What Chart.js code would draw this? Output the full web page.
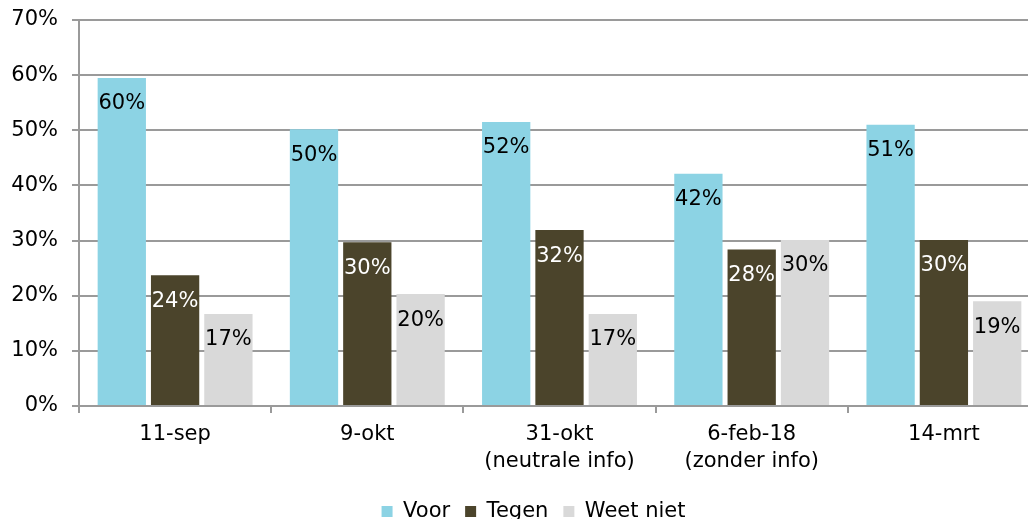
<!DOCTYPE html>
<html>
<head>
<meta charset="utf-8">
<script src="https://cdn.jsdelivr.net/npm/chart.js@4/dist/chart.umd.min.js"></script>
<style>
  html, body { margin: 0; padding: 0; overflow: hidden; background: #fff; }
  #wrap { position: absolute; left: 0; top: 0; width: 1040px; height: 532px; }
</style>
</head>
<body>
<div id="wrap"><canvas id="c"></canvas></div>
<script>
const categories = [['11-sep'], ['9-okt'], ['31-okt', '(neutrale info)'], ['6-feb-18', '(zonder info)'], ['14-mrt']];
const voor = [59.5, 50.2, 51.5, 42.1, 51.0];
const tegen = [23.7, 29.7, 31.9, 28.4, 30.1];
const weetNiet = [16.7, 20.3, 16.7, 30.1, 19.0];
const yTicks = [0, 10, 20, 30, 40, 50, 60, 70];

const FONT = 'DejaVu Sans';
const GRID = '#9a9a9a';

const labelPlugin = {
  id: 'barLabels',
  afterDatasetsDraw(chart) {
    const ctx = chart.ctx;
    ctx.save();
    ctx.font = '21px "' + FONT + '"';
    ctx.textAlign = 'center';
    ctx.textBaseline = 'middle';
    chart.data.datasets.forEach((ds, di) => {
      const meta = chart.getDatasetMeta(di);
      meta.data.forEach((bar, i) => {
        ctx.fillStyle = ds.labelColor;
        ctx.fillText(Math.round(ds.data[i]) + '%', bar.x, bar.y + 26);
      });
    });
    ctx.restore();
  }
};

const legendShift = {
  id: 'legendShift',
  afterLayout(chart) {
    if (chart.legend) { chart.legend.left = 27; }
  }
};

new Chart(document.getElementById('c'), {
  type: 'bar',
  data: {
    labels: categories,
    datasets: [
      { label: 'Voor', data: voor, backgroundColor: '#8cd3e4', labelColor: '#000000' },
      { label: 'Tegen', data: tegen, backgroundColor: '#4b442b', labelColor: '#ffffff' },
      { label: 'Weet niet', data: weetNiet, backgroundColor: '#d9d9d9', labelColor: '#000000' }
    ]
  },
  options: {
    responsive: true,
    maintainAspectRatio: false,
    animation: false,
    devicePixelRatio: 1,
    layout: { padding: { left: 0, right: 0, top: 20, bottom: 0 } },
    datasets: { bar: { categoryPercentage: 0.832, barPercentage: 0.906 } },
    plugins: {
      tooltip: { enabled: false },
      legend: {
        position: 'bottom',
        labels: {
          boxWidth: 11, boxHeight: 11, padding: 15,
          color: '#000', font: { family: FONT, size: 21 }
        }
      }
    },
    scales: {
      x: {
        afterFit(s) { s.height = 80; s.paddingLeft = 0; s.paddingRight = 0; },
        grid: { offset: true, drawOnChartArea: false, drawTicks: true, tickLength: 7, color: GRID, lineWidth: 2 },
        border: { display: true, color: GRID, width: 2 },
        ticks: { color: '#000', padding: 9, font: { family: FONT, size: 21, lineHeight: 1.24 }, maxRotation: 0, autoSkip: false }
      },
      y: {
        min: 0, max: 70,
        afterFit(s) { s.width = 79; s.paddingTop = 0; s.paddingBottom = 0; },
        afterBuildTicks(s) { s.ticks = yTicks.map(v => ({ value: v })); },
        grid: { color: GRID, lineWidth: 2, drawTicks: true, tickLength: 7 },
        border: { display: true, color: GRID, width: 2 },
        ticks: { color: '#000', padding: 14, font: { family: FONT, size: 21 }, callback: v => v + '%' }
      }
    }
  },
  plugins: [labelPlugin, legendShift]
});
</script>
</body>
</html>
